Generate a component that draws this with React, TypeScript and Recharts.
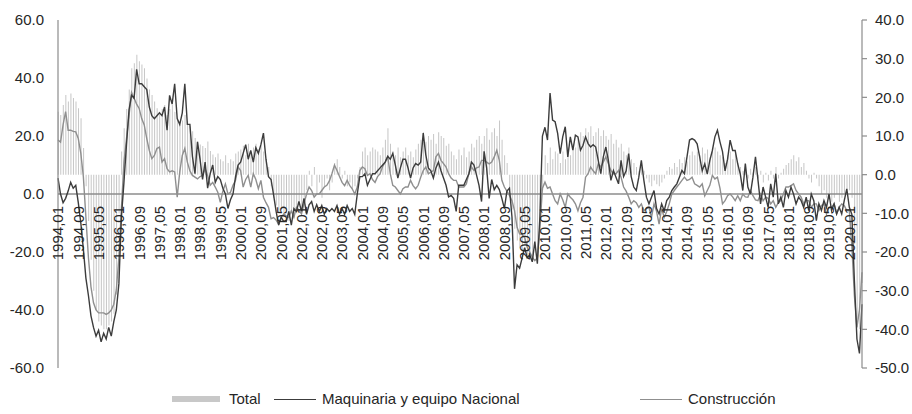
import {
  ComposedChart,
  Bar,
  Line,
  XAxis,
  YAxis,
  ReferenceLine,
} from 'recharts';

// Monthly series, 1994,01 .. 2020,06 (one row per year)
const maquinaria: number[] = [
  5.5, 0, -3, -1.5, 1, 4, 2, 3, -3, -10, -19, -29, // 1994
  -35, -42, -46, -49, -47, -51, -48, -50, -46, -49, -44, -40, // 1995
  -31, -8, 4, 17, 29, 34, 33, 43, 38, 38, 37, 36, // 1996
  30, 27, 26, 27, 28, 27, 30, 22, 34, 31, 38, 26, // 1997
  24, 28, 38, 24, 24, 13, 7, 18, 12, 5, 11, 2, // 1998
  7, 10, 4, 6, 5, 2, 0, -5, -2, 0, 6, 10, // 1999
  11, 14, 17, 12, 15, 11, 16, 14, 17, 21, 12, 6, // 2000
  5, -0.3, -6, -10.7, -8, -9.5, -9.5, -6, -10.7, -5, -6, -2.6, // 2001
  -6, -1.5, -7, -3.7, -2.6, -6, -3.7, -6, -4, -7, -5, -6, // 2002
  -5, -6, -4, -7, -5, -7, -4, -6, -5, -7, 0, 6, // 2003
  6, 7, 3, 5, 7, 7, 8, 9, 10, 11, 13, 12, // 2004
  14, 10, 5.5, 9, 12, 12, 9, 5.5, 9, 10.5, 10, 11, // 2005
  21, 13.6, 9, 8, 5.5, 9, 11, 8, 5.5, 3, -1, -0.5, // 2006
  -1.5, -6, 3, 3, 3, 5, 7, 11, 10, 6.6, 3, -2.6, // 2007
  14.7, 9, -1.5, 5, 1.5, 3, 1.5, -1.5, -5, 1, 2, -8, // 2008
  -32.7, -24.4, -25.6, -22, -18.5, -22, -21, -23.4, -16.4, -24, -8, 20, // 2009
  23, 18.6, 34.8, 25.5, 24.9, 20.9, 13.9, 19.7, 23.2, 12.8, 19.7, 15.1, // 2010
  20.3, 19.7, 15.1, 16.8, 19.7, 17.4, 16.2, 17, 16.2, 11.6, 7, 12.8, // 2011
  16.2, 11.6, 4.7, 8.1, 5.8, 3.5, 11.6, 6, 8, 13.9, 6, 2.4, // 2012
  1.2, 5.8, 11.6, 4.7, -1.1, -3.4, -1.1, 1.2, -5, -6.9, -3.4, -5.8, // 2013
  -2.3, -1.1, 1.2, 2.4, 3.5, 5.8, 8.1, 7, 12.8, 18.6, 19.1, 18.6, // 2014
  17.3, 12.8, 8, 10.4, 6.9, 11.6, 15, 19.7, 22, 18, 14.6, 8, // 2015
  12, 18.6, 15, 15, 10.4, 6.9, 1.2, 10.5, 2.4, 0, 5.8, 12.8, // 2016
  4.7, -3.4, 2.4, -1.1, -4.6, 3.5, -1.1, 7, -3.4, -1.1, -4.6, 1.2, // 2017
  -1.1, 2.4, 0, -3.4, -1.1, -2.3, -4.6, -1.1, -5.7, 0, -2.3, -9.2, // 2018
  -3.4, -5.7, -2.3, -4.6, 0, -5.7, -3.4, -6.9, -4.6, -6.9, -2.3, 1.8, // 2019
  -4.6, -7, -30, -50, -55, -38, // 2020
];

const construccion: number[] = [
  18.6, 17.9, 23.8, 28.4, 22, 22, 21.6, 21.4, 19.1, 14, 6, -8, // 1994
  -22, -32, -37.5, -40, -41, -41, -41, -41.5, -41, -40, -38, -33, // 1995
  -22, -5, 11, 19, 27, 35, 33, 31, 29.5, 26, 23.8, 19.1, // 1996
  15, 12.2, 13.3, 15.7, 16.2, 11, 12.2, 8.7, 7.6, 8, 7.6, -1.1, // 1997
  7.6, 13.3, 15.7, 11, 8, 6.4, 5.8, 5.2, 6, 6.4, 8.7, 6.4, // 1998
  3, 4, 2.4, 0.6, -2.9, 1, 3.5, 0, 0.6, 3, 4.7, 9.3, // 1999
  8.1, 2.4, 5, 6.4, 2.4, 7, 5, 1.8, 4.7, -1.1, -3, -4.6, // 2000
  -8.5, -8.1, -9, -10.4, -8.1, -6.9, -7.5, -8.1, -5.8, -8.1, -4.6, -5.5, // 2001
  -6.9, -3.4, 0, 2.4, 1.2, -1.1, 0, 0, 1.2, 2.4, 3, 4.5, // 2002
  7, 9.9, 8.1, 6, 4, 2.9, 4.7, 3, 1.8, 0, 2.4, 8.1, // 2003
  9.3, 8.7, 6.4, 7, 5, 4, 6, 7, 9.5, 11, 12.8, 7, // 2004
  3, 2.4, 1.2, 0, 1.8, 2.4, 2.4, 4.7, 2.9, 1.8, 3, 5.8, // 2005
  8.1, 9.3, 7, 7.5, 8.1, 12.8, 14, 11.6, 10.5, 9.3, 7, 5.5, // 2006
  4.7, 4.7, 2.4, 2.4, 2.4, 3.5, 7, 9.3, 8.1, 9, 9.3, 11.6, // 2007
  11.6, 11, 10.4, 11, 12.8, 15.1, 11.6, 4.7, 2.4, 1, -0.5, -2.3, // 2008
  -5.7, -11.5, -13.8, -14, -15, -18.4, -20, -21.8, -23, -22, -12, 2, // 2009
  4.1, 2, 2.4, 0, -2.3, -3.4, 0, -2, -4.6, 0, -1.1, -2, // 2010
  -3.4, -5.8, -3, -1.1, 5.8, 7, 9.3, 8, 7, 10.4, 9.3, 11, // 2011
  12.8, 10.4, 8.1, 7, 7, 8.1, 5.8, 2.4, 1, -1, -3.4, -2.3, // 2012
  -3, -4.6, -3.4, -5.8, -5, -4.6, -8.1, -3.4, -6, -10.4, -5, -8.1, // 2013
  -6, -3.4, 0, 1.2, 2.4, 3.5, 4.7, 5.8, 4.7, 5, 5.8, 3.5, // 2014
  3, 2.4, 3.5, -0.6, 1.2, 3, 6.4, 5.2, 5.8, 2, -3.4, -2.3, // 2015
  -0.6, 0, -1, -2.3, -0.6, -2.3, 0, -1, -1.1, 1.2, -0.6, -2, // 2016
  -2.3, 0, -2.3, -1.1, -1.5, -3.4, -2.3, -4.6, -3, -2.3, 0, 2.4, // 2017
  2.4, 2.9, 3.5, 1.2, 0, -1.1, -3.4, -2.3, -2.3, -4.6, -3.4, -3.4, // 2018
  -5.7, -4, -3.4, -6.9, -4.6, -4.6, -3.4, -6.9, -4.6, -3.4, -4, -5.7, // 2019
  -5.7, -18, -35, -46, -40, -27, // 2020
];

const total: number[] = [
  16.3, 15.4, 18, 20.6, 18.9, 21, 19.8, 18.9, 17.2, 14.6, 6.9, -3, // 1994
  -12, -22, -30, -35, -38, -39, -40, -40, -39, -38, -36, -31, // 1995
  -10, 6, 12, 17, 22, 27.5, 28.8, 31, 29.3, 28.5, 27.5, 24.9, // 1996
  22, 20.6, 18.9, 17.2, 16.3, 17, 18, 15.4, 17, 18, 16.3, 14.6, // 1997
  12.9, 14, 15.4, 13.8, 12.5, 11.2, 9.5, 8.6, 7.8, 7.4, 6.9, 8.6, // 1998
  6.1, 5.2, 4.5, 5.5, 4, 3.5, 5, 3, 4, 3.5, 5.5, 6, // 1999
  6.5, 7.5, 5, 8, 6, 7, 8, 6.5, 7.5, 6, 4, 2, // 2000
  -3, -6, -8, -10, -9, -11, -10, -12, -9, -11, -10, -8, // 2001
  -9, -6, -4, 1, -3, 2, -5, -2, -6, -3, -1, -4, // 2002
  -2, 3, 4, 2, -1, 1, -3, -2, -4, -3, -1, 2, // 2003
  6, 7, 5, 6, 7, 6.5, 6, 5, 7, 9, 12, 8, // 2004
  6, 5, 7, 4.5, 6, 7, 5, 6, 4.5, 6.5, 8, 9, // 2005
  11, 8.5, 10, 9, 10.5, 8, 11, 10, 9.5, 7.5, 8, 6, // 2006
  5, 4, 6.5, 5, 7, 4.5, 6, 8, 7, 9, 10, 8, // 2007
  10, 12, 9, 11, 12, 10, 14, 9, 5, 3, -4, -9, // 2008
  -14, -17, -19, -20, -18, -21, -20, -22, -19, -20, -12, -4, // 2009
  5, 3, 7, 4, 6, 5.5, 3, 6, 4, 7, 5, 8, // 2010
  7, 9, 11, 10, 12, 11, 12.5, 10, 11, 12, 10, 11.5, // 2011
  10, 9, 10.5, 8, 9, 7, 8, 6, 5, 7, 4, 3, // 2012
  2, 1, 3, 1, -1, -2, -3, -1.5, -2.5, -3, -2, -1, // 2013
  1, 2, 1.5, 3, 2, 4, 3, 4.5, 3.5, 5, 6, 5, // 2014
  6, 5, 7, 5.5, 6.5, 4.5, 6, 7, 6, 5, 4.5, 3, // 2015
  5, 6, 4, 5.5, 3, 2, 1, 2, -1, 1.5, 0.5, 2, // 2016
  -1, 1, -2, 0.5, -1.5, 1, -1, 2, -1, 0.5, 1.5, 2.5, // 2017
  3, 4, 5, 3.5, 4.5, 2, 3, 1, -1, -2, 0.5, -1, // 2018
  -3, -5, -4, -6, -5, -7, -6, -5, -7, -6, -5, -4, // 2019
  -4, -6, -18, -38, -40, -28, // 2020
];

const firstYear = 1994;
const periods: string[] = maquinaria.map((_, i) => {
  const y = firstYear + Math.floor(i / 12);
  const m = (i % 12) + 1;
  return `${y},${m < 10 ? '0' + m : m}`;
});

const tickIdx: number[] = [];
for (let i = 0; i < periods.length; i += 8) tickIdx.push(i);

const leftTicks = [-60, -40, -20, 0, 20, 40, 60];
const rightTicks = [-50, -40, -30, -20, -10, 0, 10, 20, 30, 40];

const data = periods.map((p, i) => ({
  i,
  period: p,
  total: total[i],
  maquinaria: maquinaria[i],
  construccion: construccion[i],
}));

const FONT = '"Liberation Sans", Arial, sans-serif';
const TEXT = '#262626';
const AXIS = '#8c8c8c';

// plot geometry
const W = 912;
const H = 414;
const TOP = 20;
const PLOT_BOTTOM = 368;
const X_AXIS_H = 30;
const ZERO_Y = (TOP + PLOT_BOTTOM) / 2; // left axis is symmetric (-60..60)
const LABEL_TOP = ZERO_Y + 12;

function XTick(props: any) {
  const { x, payload } = props;
  const label = periods[payload.value];
  return (
    <text
      x={x}
      y={LABEL_TOP}
      transform={`rotate(-90, ${x}, ${LABEL_TOP})`}
      textAnchor="end"
      dy="0.36em"
      fontSize={15}
      fill={TEXT}
      fontFamily={FONT}
    >
      {label}
    </text>
  );
}

function LegendRow() {
  const item = { position: 'absolute' as const, top: 389, fontSize: 15, color: TEXT, fontFamily: FONT, lineHeight: '20px' };
  return (
    <>
      <div style={{ position: 'absolute', left: 172, top: 396, width: 48, height: 6, background: '#c8c8c8' }} />
      <div style={{ ...item, left: 229 }}>Total</div>
      <div style={{ position: 'absolute', left: 274, top: 399, width: 42, height: 1.4, background: '#3c3c3c' }} />
      <div style={{ ...item, left: 322 }}>Maquinaria y equipo Nacional</div>
      <div style={{ position: 'absolute', left: 640, top: 399, width: 42, height: 1.4, background: '#8f8f8f' }} />
      <div style={{ ...item, left: 688 }}>Construcción</div>
    </>
  );
}

export default function App() {
  return (
    <div style={{ position: 'absolute', left: 0, top: 0, width: W, height: H, background: '#fff', overflow: 'hidden' }}>
      <ComposedChart
        width={W}
        height={H}
        data={data}
        margin={{ top: TOP, right: 0, bottom: H - PLOT_BOTTOM - X_AXIS_H, left: 0 }}
      >
        <XAxis
          dataKey="i"
          type="number"
          domain={[0, periods.length - 1]}
          ticks={tickIdx}
          interval={0}
          height={X_AXIS_H}
          axisLine={false}
          tickLine={false}
          tick={<XTick />}
        />
        <YAxis
          yAxisId="left"
          orientation="left"
          domain={[-60, 60]}
          ticks={leftTicks}
          interval={0}
          width={58}
          tickFormatter={(v: number) => v.toFixed(1)}
          tick={{ fontSize: 15, fill: TEXT, fontFamily: FONT }}
          axisLine={{ stroke: AXIS, strokeWidth: 1.2 }}
          tickLine={false}
          tickSize={6}
          tickMargin={8}
        />
        <YAxis
          yAxisId="right"
          orientation="right"
          domain={[-50, 40]}
          ticks={rightTicks}
          interval={0}
          width={50}
          tickFormatter={(v: number) => v.toFixed(1)}
          tick={{ fontSize: 15, fill: TEXT, fontFamily: FONT, textAnchor: 'start' }}
          axisLine={{ stroke: AXIS, strokeWidth: 1.2 }}
          tickLine={{ stroke: AXIS, strokeWidth: 1.2 }}
          tickSize={5}
          tickMargin={8}
        />
        <Bar
          yAxisId="right"
          dataKey="total"
          fill="#c6c6c6"
          barSize={1}
          isAnimationActive={false}
        />
        <ReferenceLine yAxisId="left" y={0} stroke={AXIS} strokeWidth={1.3} />
        <Line
          yAxisId="left"
          type="linear"
          dataKey="construccion"
          stroke="#8f8f8f"
          strokeWidth={1.4}
          dot={false}
          isAnimationActive={false}
        />
        <Line
          yAxisId="left"
          type="linear"
          dataKey="maquinaria"
          stroke="#3c3c3c"
          strokeWidth={1.4}
          dot={false}
          isAnimationActive={false}
        />
      </ComposedChart>
      <LegendRow />
    </div>
  );
}
